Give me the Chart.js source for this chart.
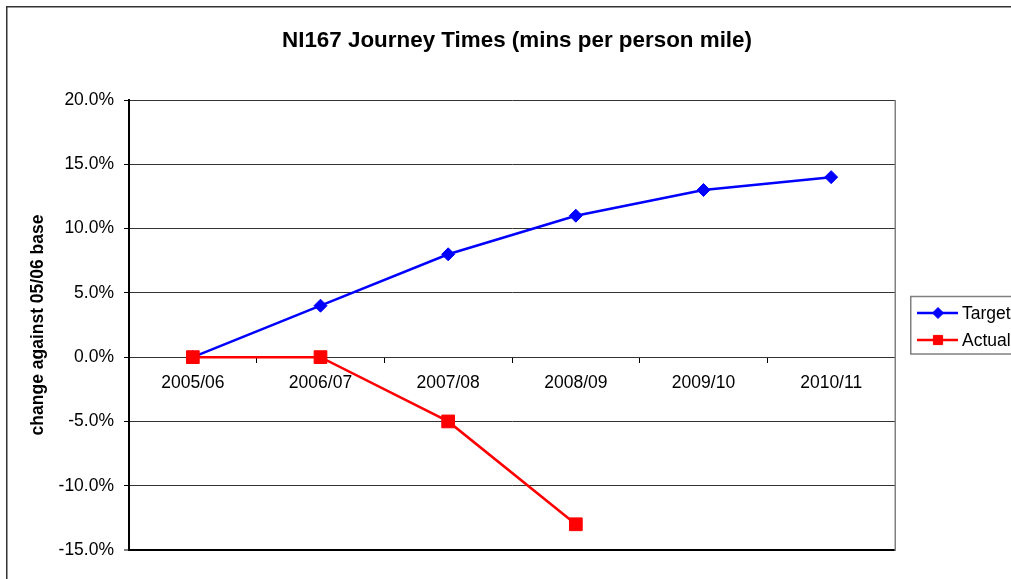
<!DOCTYPE html>
<html>
<head>
<meta charset="utf-8">
<script src="https://cdn.jsdelivr.net/npm/chart.js@4.4.1/dist/chart.umd.min.js"></script>
<style>
  html, body { margin: 0; padding: 0; background: #fff; overflow: hidden; }
  #c { display: block; }
</style>
</head>
<body>
<canvas id="c" width="1011" height="579"></canvas>
<script>
const categories = ['2005/06', '2006/07', '2007/08', '2008/09', '2009/10', '2010/11'];
const targetValues = [0, 4, 8, 11, 13, 14];
const actualValues = [0, 0, -5, -13, null, null];
const yTickMin = -15;
const yTickMax = 20;
const yTickStep = 5;
const chartTitle = 'NI167 Journey Times (mins per person mile)';
const yAxisTitle = 'change against 05/06 base';
const seriesNames = ['Target', 'Actual'];

const FONT = '"Liberation Sans", Arial, Helvetica, sans-serif';

const framePlugin = {
  id: 'frame',
  beforeDraw(chart) {
    const ctx = chart.ctx;
    ctx.save();
    ctx.fillStyle = '#fff';
    ctx.fillRect(0, 0, chart.width, chart.height);
    ctx.strokeStyle = '#333';
    ctx.lineWidth = 1.5;
    ctx.strokeRect(6.75, 6.75, chart.width + 50, chart.height + 50);
    ctx.restore();
  },
  afterDraw(chart) {
    const ctx = chart.ctx;
    const a = chart.chartArea;
    ctx.save();
    // chart title
    ctx.fillStyle = '#000';
    ctx.font = 'bold 22.4px ' + FONT;
    ctx.textAlign = 'center';
    ctx.textBaseline = 'middle';
    ctx.fillText(chartTitle, 517, 41);

    // right border of plot area
    ctx.strokeStyle = '#808080';
    ctx.lineWidth = 1.5;
    ctx.beginPath();
    ctx.moveTo(a.right + 0.25, a.top);
    ctx.lineTo(a.right + 0.25, a.bottom + 1);
    ctx.stroke();

    // legend
    const lx = 910.75, ly = 296.5, lw = 140, lh = 57.5;
    ctx.strokeStyle = '#808080';
    ctx.lineWidth = 1.5;
    ctx.fillStyle = '#fff';
    ctx.fillRect(lx, ly, lw, lh);
    ctx.strokeRect(lx, ly, lw, lh);
    const rows = [313, 340];
    chart.data.datasets.forEach((ds, i) => {
      const y = rows[i];
      ctx.strokeStyle = ds.borderColor;
      ctx.lineWidth = 2.5;
      ctx.beginPath();
      ctx.moveTo(917, y);
      ctx.lineTo(958, y);
      ctx.stroke();
      ctx.fillStyle = ds.pointBackgroundColor;
      ctx.strokeStyle = ds.pointBorderColor;
      ctx.lineWidth = 1;
      Chart.helpers.drawPoint(ctx, {
        pointStyle: ds.pointStyle,
        radius: ds.legendRadius,
        rotation: 0,
        borderWidth: 1
      }, 938, y);
      ctx.fillStyle = '#000';
      ctx.font = '17.5px ' + FONT;
      ctx.textBaseline = 'middle';
      ctx.textAlign = 'left';
      ctx.fillText(ds.label, 962, y + 1);
    });
    ctx.restore();
  }
};

new Chart(document.getElementById('c'), {
  type: 'line',
  data: {
    labels: categories,
    datasets: [
      {
        label: seriesNames[0],
        data: targetValues,
        borderColor: '#0000FF',
        backgroundColor: '#0000FF',
        pointBackgroundColor: '#0000FF',
        pointBorderColor: '#0000FF',
        borderWidth: 2.5,
        pointStyle: 'rectRot',
        pointRadius: 6.5,
        pointBorderWidth: 1,
        legendRadius: 5.5,
        tension: 0,
        fill: false,
        order: 1
      },
      {
        label: seriesNames[1],
        data: actualValues,
        borderColor: '#FF0000',
        backgroundColor: '#FF0000',
        pointBackgroundColor: '#FF0000',
        pointBorderColor: '#FF0000',
        borderWidth: 2.5,
        pointStyle: 'rect',
        pointRadius: 9,
        pointBorderWidth: 1,
        legendRadius: 6.5,
        tension: 0,
        fill: false,
        spanGaps: false,
        order: 0
      }
    ]
  },
  options: {
    responsive: false,
    animation: false,
    devicePixelRatio: 1,
    layout: { padding: { left: 0, top: 100, right: 116, bottom: 29 } },
    plugins: {
      legend: { display: false },
      tooltip: { enabled: false },
      title: { display: false }
    },
    scales: {
      x: {
        type: 'category',
        position: { y: 0 },
        offset: true,
        grid: {
          offset: true,
          drawOnChartArea: false,
          drawTicks: true,
          tickLength: 6,
          tickColor: '#000',
          tickWidth: 1
        },
        border: { display: false },
        ticks: {
          color: '#000',
          font: { family: FONT, size: 17.5, lineHeight: 1.2 },
          padding: 9.5,
          maxRotation: 0,
          autoSkip: false
        }
      },
      y: {
        position: 'left',
        min: yTickMin,
        max: yTickMax,
        afterFit(scale) { scale.width = 129; },
        ticks: {
          stepSize: yTickStep,
          color: '#000',
          font: { family: FONT, size: 17.5, lineHeight: 1.2 },
          padding: 10,
          callback: (v) => Number(v).toFixed(1) + '%'
        },
        grid: {
          color: (c) => (c.tick && c.tick.value === yTickMin) ? '#000' : '#333',
          lineWidth: (c) => (c.tick && c.tick.value === yTickMin) ? 2 : 1,
          drawTicks: true,
          tickLength: 5,
          tickColor: '#000',
          tickWidth: 1
        },
        border: { display: true, color: '#000', width: 2 },
        title: {
          display: true,
          text: yAxisTitle,
          color: '#000',
          font: { family: FONT, size: 17.5, weight: 'bold', lineHeight: 1.2 },
          padding: { top: 27.5, bottom: 0 }
        }
      }
    }
  },
  plugins: [framePlugin]
});
</script>
</body>
</html>
